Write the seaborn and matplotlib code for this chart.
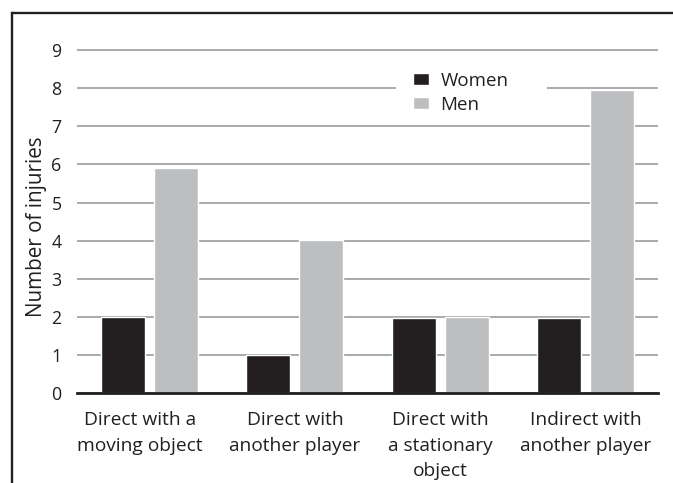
import matplotlib
matplotlib.use("Agg")
import matplotlib.pyplot as plt
from matplotlib.lines import Line2D
from matplotlib.patches import Rectangle
from matplotlib.transforms import ScaledTranslation
import seaborn as sns
import pandas as pd

# Injury counts by mechanism of contact
categories = [
    "Direct with a\nmoving object",
    "Direct with\nanother player",
    "Direct with\na stationary\nobject",
    "Indirect with\nanother player",
]
women = [2, 1, 1.97, 1.98]
men = [5.9, 4.02, 2, 7.95]
yticks = [0, 1, 2, 3, 4, 5, 6, 7, 8, 9]

sns.set_theme(style="white")
plt.rcParams["font.family"] = ["Open Sans", "DejaVu Sans"]

INK = "#231f20"
GREY_BAR = "#bcbec0"
GRID = "#a2a4a7"

df = pd.DataFrame({
    "category": categories * 2,
    "count": women + men,
    "sex": ["Women"] * len(categories) + ["Men"] * len(categories),
})

W, H = 673, 483
DPI = 100
fig = plt.figure(figsize=(W / DPI, H / DPI), dpi=DPI)
fig.patch.set_facecolor("white")

# plot area in pixels: x 77..658, y(0)=393, one unit = 38.1 px
unit = 38.1
ytop = 9.2
ax = fig.add_axes([77 / W, 1 - 393 / H, 581 / W, ytop * unit / H])

sns.barplot(
    data=df, x="category", y="count", hue="sex",
    palette={"Women": INK, "Men": GREY_BAR},
    width=0.73, gap=0.17, saturation=1, ax=ax, legend=True,
)

ax.set_xlim(-0.5, len(categories) - 0.5)
ax.set_ylim(0, ytop)
ax.set_yticks(yticks)
ax.set_yticklabels([str(t) for t in yticks], fontsize=12.8, color=INK)
ax.yaxis.grid(True, color=GRID, linewidth=1.3)
ax.set_axisbelow(True)
ax.tick_params(axis="both", length=0)
ax.tick_params(axis="y", pad=11)
ax.tick_params(axis="x", pad=13)
ax.set_xticks(range(len(categories)))
ax.set_xticklabels(categories, fontsize=13.8, color=INK, linespacing=1.55, va="top")

# the first category label sits a little left of its bars
first = ax.get_xticklabels()[0]
first.set_transform(first.get_transform() + ScaledTranslation(-10 / DPI, 0, fig.dpi_scale_trans))

for side in ("top", "right", "left"):
    ax.spines[side].set_visible(False)
ax.spines["bottom"].set_color(INK)
ax.spines["bottom"].set_linewidth(2.0)

ax.set_xlabel("")
ax.set_ylabel("Number of injuries", fontsize=14.9, color=INK)
ax.yaxis.set_label_coords(-30 / 581, (393 - 226.5) / (ytop * unit))

# legend sits on a white panel that interrupts the gridline behind it
ax.add_patch(Rectangle((396 / W, 1 - 120 / H), 151 / W, 58 / H,
                       transform=fig.transFigure, facecolor="white",
                       edgecolor="none", zorder=0.8, clip_on=False))
leg = ax.legend(
    loc="upper left",
    bbox_to_anchor=(413 / W, 1 - 72 / H),
    bbox_transform=fig.transFigure,
    borderaxespad=0, borderpad=0,
    frameon=False,
    fontsize=13.5, handlelength=0.87, handleheight=0.62,
    handletextpad=0.6, labelspacing=0.32,
)
leg.set_zorder(5)
for t in leg.get_texts():
    t.set_color(INK)

# outer frame: top and left rules
fig.add_artist(Line2D([12 / W, 1.0], [1 - 12.5 / H, 1 - 12.5 / H],
                      transform=fig.transFigure, color=INK, linewidth=1.7))
fig.add_artist(Line2D([12 / W, 12 / W], [0.0, 1 - 12.5 / H],
                      transform=fig.transFigure, color=INK, linewidth=1.7,
                      solid_capstyle="projecting"))

fig.savefig("out.png", dpi=DPI, facecolor="white")
